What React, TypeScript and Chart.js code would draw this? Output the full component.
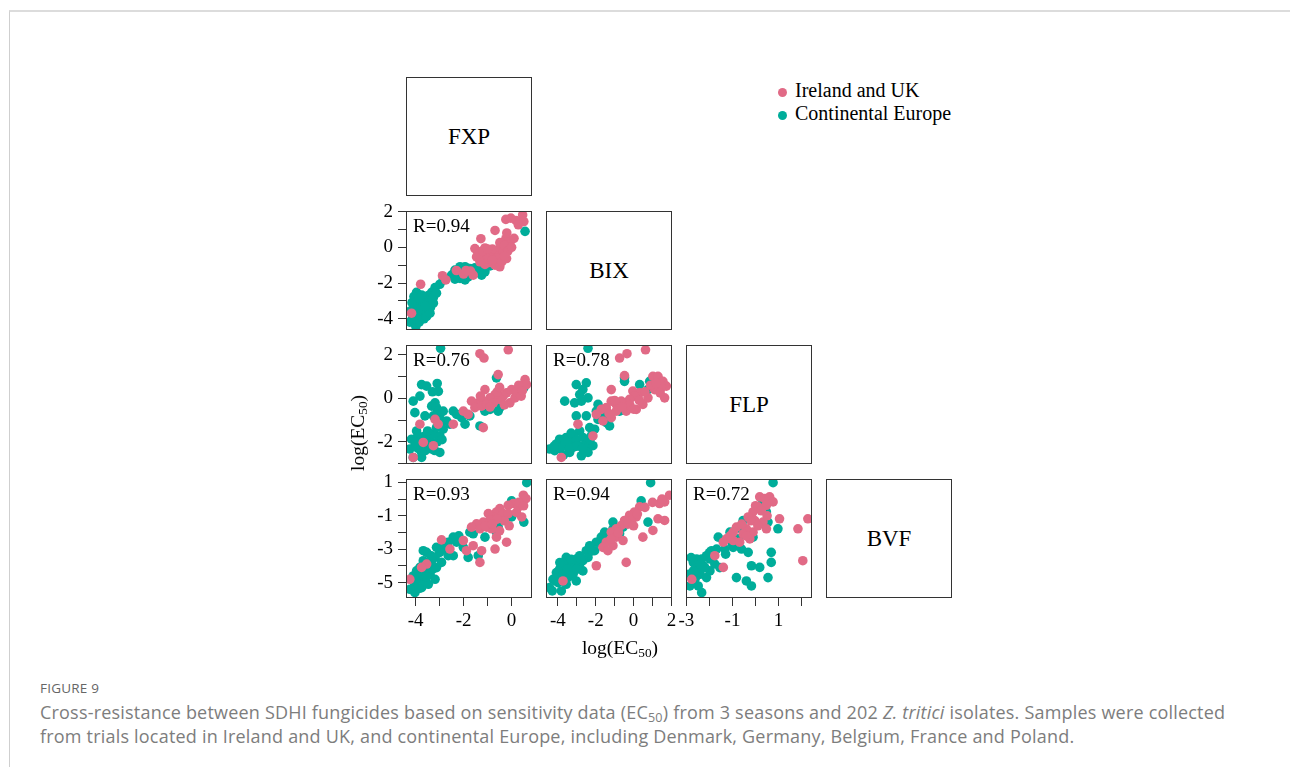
import React, { useEffect, useRef } from "react";
import { Chart, registerables } from "chart.js";

Chart.register(...registerables);

// ---------- data ----------
const UK_COLOR = "#E16A86";
const EU_COLOR = "#00AD9A";
const GROUPS = ["Ireland and UK", "Continental Europe"];
const VARIABLES = ["FXP", "BIX", "FLP", "BVF"];

const FXP_RANGE = [-4.4, 0.85];
const BIX_RANGE = [-4.63, 2.03];
const FLP_RANGE = [-3.02, 2.45];
const BVF_RANGE = [-5.92, 1.2];

const FXP_TICKS = [-4, -3, -2, -1, 0];
const BIX_TICKS = [-4, -3, -2, -1, 0, 1, 2];
const FLP_TICKS = [-3, -2, -1, 0, 1, 2];
const BVF_TICKS = [-5, -4, -3, -2, -1, 0, 1];

const FXP_LABELS_X = [-4, -2, 0];
const BIX_LABELS_X = [-4, -2, 0, 2];
const FLP_LABELS_X = [-3, -1, 1];
const BIX_LABELS_Y = [-4, -2, 0, 2];
const FLP_LABELS_Y = [-2, 0, 2];
const BVF_LABELS_Y = [-5, -3, -1, 1];

const R_VALUES = ["R=0.94", "R=0.76", "R=0.78", "R=0.93", "R=0.94", "R=0.72"];

// FXP (x) vs BIX (y)
const FXP_BIX_UK = [[-0.03,1.63],[0.18,1.5],[0.46,1.81],[0.51,1.44],[0.28,1.26],[-0.24,1.56],[-0.69,0.94],[-1.28,0.48],[-0.24,0.48],[-0.07,0.15],[-0.21,-0.63],[-1.53,-0.07],[-1.32,-0.26],[-1.11,-0.04],[-0.97,-0.35],[-1.46,-0.54],[-1.18,-0.63],[-0.83,-0.44],[-0.63,-0.17],[-0.46,-0.04],[-0.35,-0.26],[-0.69,-1.0],[-0.49,-1.09],[-0.9,-0.85],[-1.11,-0.96],[-1.6,-1.56],[-1.71,-1.33],[-2.88,-1.59],[-2.74,-1.83],[-3.79,-2.07],[-4.17,-3.69],[-0.49,0.26],[-1.01,-0.63],[-1.32,-0.81],[-1.4,-0.4],[-1.2,-0.2],[-0.8,-0.1],[-0.6,-0.6],[-0.4,-0.8],[-0.3,0.1],[-0.8,-0.7],[-1.0,-0.1],[-0.15,-0.2],[-0.3,-0.5],[0.0,0.0],[0.1,0.5],[-0.2,0.8],[-2.3,-1.3],[-2.0,-1.5],[-1.9,-1.3]];
const FXP_BIX_EU = [[0.56,0.89],[-0.14,0.33],[-0.56,-0.44],[-0.63,-0.67],[-0.9,-1.04],[-1.11,-1.37],[-1.32,-1.28],[-1.53,-1.15],[-1.74,-1.19],[-1.94,-1.09],[-2.15,-1.09],[-2.36,-1.28],[-2.5,-1.56],[-2.36,-1.78],[-2.15,-1.74],[-1.94,-1.83],[-1.81,-1.65],[-1.25,-1.56],[-2.85,-1.83],[-2.99,-2.07],[-3.19,-2.26],[-3.33,-2.52],[-3.47,-2.7],[-3.61,-2.89],[-3.82,-3.07],[-4.03,-3.26],[-4.1,-3.44],[-3.96,-3.63],[-3.79,-3.81],[-3.65,-4.0],[-4.13,-4.0],[-4.24,-4.19],[-3.99,-4.44],[-3.85,-4.19],[-3.54,-3.59],[-3.38,-3.37],[-3.26,-3.13],[-3.26,-2.81],[-3.47,-3.07],[-3.96,-2.52],[-4.07,-2.76],[-3.75,-2.67],[-3.68,-3.22],[-3.89,-3.5],[-3.54,-3.87],[-3.13,-2.57],[-4.24,-3.59],[-3.96,-4.04],[-3.75,-3.41],[-3.4,-3.69],[-4.15,-3.1],[-3.6,-3.3],[-3.85,-2.85],[-3.3,-2.95],[-4.05,-3.85]];

// FXP (x) vs FLP (y)
const FXP_FLP_UK = [[-1.32,2.05],[-1.15,1.85],[-0.14,2.23],[-0.56,1.09],[0.56,0.86],[0.62,0.63],[-1.11,0.4],[0.0,0.4],[-0.21,0.25],[-0.35,0.1],[-0.49,-0.05],[-0.69,0.17],[-0.9,0.02],[-1.18,-0.13],[-1.39,-0.21],[-1.67,-0.13],[-1.53,-0.43],[-1.25,-0.36],[-1.04,-0.28],[-0.76,-0.21],[-0.07,-0.21],[0.14,0.02],[-2.01,-0.59],[-1.81,-0.74],[-1.18,-1.35],[-2.43,-1.19],[-3.19,-0.97],[-3.82,-1.19],[-3.68,-2.03],[-3.26,-2.18],[-4.1,-2.72],[-3.06,-1.19],[-0.6,0.3],[-0.3,-0.3],[0.2,0.3],[0.4,0.1],[-0.9,-0.4],[-1.3,0.1],[0.3,0.6],[-0.5,0.5],[0.45,0.35]];
const FXP_FLP_EU = [[-2.96,2.3],[-3.75,0.63],[-3.54,0.56],[-3.1,0.68],[-3.05,0.32],[-3.3,0.3],[-4.1,-0.13],[-3.82,0.1],[-4.03,-0.66],[-3.61,-0.81],[-3.33,-0.36],[-3.19,-0.21],[-3.13,-0.43],[-3.06,-0.59],[-2.99,-0.74],[-2.85,-0.59],[-3.26,-0.81],[-2.92,-1.04],[-2.71,-1.04],[-2.43,-0.59],[-2.29,-0.74],[-2.08,-0.89],[-1.94,-1.19],[-1.74,-0.81],[-1.32,-1.27],[-1.11,-0.59],[-0.9,-0.51],[-0.56,-0.59],[-0.49,-0.43],[-0.63,0.94],[0.51,0.48],[0.56,0.71],[-3.96,-1.5],[-4.17,-1.88],[-4.03,-2.18],[-4.24,-2.33],[-3.82,-1.95],[-3.61,-1.73],[-3.4,-1.88],[-3.26,-1.65],[-3.13,-1.35],[-2.99,-1.73],[-2.85,-1.42],[-3.75,-2.49],[-3.33,-2.33],[-2.99,-2.49],[-3.75,-2.72],[-4.1,-2.72],[-3.54,-2.1],[-2.57,-1.19],[-3.9,-2.3],[-3.6,-2.4],[-3.4,-2.1],[-3.2,-2.4],[-3.9,-1.7],[-4.0,-2.0],[-3.5,-1.5],[-3.1,-2.0],[-2.9,-1.9]];

// BIX (x) vs FLP (y)
const BIX_FLP_UK = [[-0.74,1.85],[-0.35,2.05],[0.63,2.23],[-0.48,1.04],[-1.18,0.4],[-0.04,0.33],[1.02,1.01],[1.29,1.01],[1.55,0.78],[1.73,0.56],[1.46,0.48],[1.64,0.02],[1.11,0.4],[0.32,0.25],[0.05,0.1],[-0.21,-0.05],[-0.39,-0.21],[-0.65,-0.13],[-0.92,-0.28],[-1.18,-0.13],[-1.44,-0.43],[-1.71,-0.51],[-1.97,-0.74],[-1.62,-1.04],[-1.18,-0.89],[-0.92,-0.59],[-0.39,-0.59],[0.14,-0.51],[0.49,-0.28],[0.76,0.02],[-2.94,-1.19],[-2.15,-1.73],[-3.82,-2.72],[-0.2,-0.3],[0.3,-0.1],[0.6,0.3],[0.9,0.6],[1.2,0.7],[-0.6,-0.4],[-1.0,-0.1],[1.4,0.25],[0.0,-0.5],[-1.3,-0.7]];
const BIX_FLP_EU = [[-2.41,2.3],[-0.48,0.94],[-0.48,0.78],[0.32,0.63],[0.85,0.78],[0.76,0.4],[-3.03,0.63],[-2.5,0.71],[-2.68,0.4],[-2.85,0.17],[-3.64,-0.13],[-3.12,-0.21],[-2.76,-0.13],[-2.41,0.02],[-3.03,-0.81],[-2.5,-0.81],[-1.88,-0.28],[-1.97,-0.59],[-1.71,-0.74],[-1.88,-0.97],[-1.44,-0.81],[-1.44,-1.12],[-0.74,-0.59],[-0.56,-0.51],[-1.27,-1.27],[-2.32,-1.35],[-2.85,-1.5],[-3.2,-1.73],[-3.56,-1.8],[-3.91,-1.88],[-4.08,-2.1],[-4.44,-2.33],[-4.17,-2.41],[-3.73,-2.18],[-3.38,-2.03],[-3.03,-1.88],[-2.68,-1.8],[-3.2,-2.26],[-2.85,-2.18],[-2.5,-2.1],[-2.15,-2.18],[-2.41,-2.49],[-2.76,-2.64],[-3.38,-2.49],[-2.06,-1.42],[-2.24,-1.73],[-3.9,-2.3],[-3.6,-2.0],[-3.4,-2.3],[-3.0,-2.2],[-2.7,-2.3],[-2.3,-1.9],[-3.7,-2.6],[-4.2,-2.2],[-3.3,-1.6]];

// FXP (x) vs BVF (y)
const FXP_BVF_UK = [[0.49,0.23],[0.6,0.03],[0.07,-0.27],[0.28,-0.47],[-0.14,-0.37],[-0.49,-0.57],[-0.63,-0.77],[-0.35,-0.87],[-0.14,-0.87],[-0.76,-1.07],[-0.97,-0.87],[-0.9,-1.27],[-1.18,-1.38],[-1.46,-1.48],[-1.67,-1.68],[-1.32,-1.78],[-1.04,-1.68],[-0.83,-1.78],[-0.63,-2.28],[-0.21,-2.58],[0.42,-1.07],[-2.01,-2.48],[-1.88,-3.09],[-1.6,-2.79],[-1.25,-3.09],[-1.32,-3.79],[-0.69,-2.99],[-2.92,-2.44],[-2.57,-2.99],[-3.54,-3.89],[-3.75,-4.09],[-4.24,-4.8],[-0.3,-1.3],[-0.6,-1.2],[0.2,-0.8],[-1.1,-1.6],[-0.5,-1.9],[0.3,-0.2],[-0.1,-1.6],[-0.8,-1.5],[0.5,-0.4]];
const FXP_BVF_EU = [[0.63,0.98],[0.0,-0.11],[0.51,-1.38],[0.0,-1.07],[-0.56,-1.68],[-0.63,-1.98],[-1.11,-2.28],[-1.74,-1.98],[-1.6,-2.08],[-2.43,-2.28],[-2.29,-2.58],[-2.64,-2.58],[-2.01,-2.89],[-1.81,-3.49],[-1.39,-3.39],[-2.43,-3.39],[-2.78,-2.99],[-2.99,-3.19],[-3.13,-2.89],[-3.19,-3.49],[-3.33,-3.69],[-3.54,-3.19],[-3.68,-3.09],[-3.47,-3.99],[-3.68,-3.69],[-3.82,-4.09],[-3.96,-4.3],[-4.1,-4.6],[-3.89,-4.7],[-3.61,-4.4],[-3.4,-4.5],[-3.19,-4.8],[-3.68,-4.9],[-4.03,-5.1],[-4.24,-5.4],[-4.03,-5.6],[-3.75,-5.3],[-3.47,-5.1],[-3.13,-4.1],[-2.92,-3.79],[-2.64,-3.39],[-3.8,-4.6],[-3.6,-3.8],[-3.3,-4.2],[-4.0,-4.9],[-3.55,-4.65],[-3.85,-5.35],[-3.35,-3.4],[-2.8,-2.7],[-2.2,-2.2]];

// BIX (x) vs BVF (y)
const BIX_BVF_UK = [[1.9,0.23],[1.64,-0.17],[1.37,-0.27],[1.29,-1.18],[1.64,-1.28],[1.02,-1.88],[0.49,-2.28],[0.32,-0.47],[0.05,-0.77],[0.14,-1.07],[-0.21,-0.97],[-0.12,-1.28],[-0.48,-1.28],[-0.65,-1.58],[-0.92,-1.78],[-1.18,-1.98],[-0.92,-2.28],[-1.44,-2.58],[-1.09,-2.79],[-1.62,-2.89],[-1.36,-3.09],[-0.39,-3.79],[-1.97,-3.99],[-0.56,-2.48],[-3.73,-4.9],[0.2,-0.9],[-0.3,-1.5],[-0.8,-2.0],[0.6,-0.5],[1.0,-0.2],[1.5,0.0],[-1.2,-2.4],[0.0,-1.6]];
const BIX_BVF_EU = [[0.9,0.98],[0.4,-0.11],[0.76,-1.38],[-1.09,-1.38],[-1.53,-1.98],[-1.09,-1.78],[-0.56,-1.68],[-1.71,-2.28],[-1.97,-2.58],[-1.44,-2.38],[-2.32,-2.79],[-2.06,-3.09],[-2.5,-3.09],[-2.85,-3.39],[-2.41,-3.49],[-2.68,-3.69],[-3.03,-3.59],[-3.29,-3.69],[-3.56,-3.49],[-3.64,-3.89],[-3.38,-4.09],[-3.12,-3.99],[-2.85,-3.89],[-3.91,-4.2],[-4.08,-4.4],[-3.73,-4.5],[-3.47,-4.7],[-3.2,-4.5],[-4.26,-4.8],[-3.99,-5.0],[-4.44,-5.3],[-3.82,-5.5],[-3.56,-5.1],[-3.03,-4.9],[-2.68,-4.3],[-1.0,-2.18],[-0.74,-2.08],[-4.1,-4.9],[-3.8,-4.7],[-3.5,-4.2],[-3.3,-3.6],[-3.0,-4.2],[-2.8,-3.6],[-4.3,-5.5],[-3.9,-3.8],[-2.2,-3.1],[-1.8,-2.6]];

// FLP (x) vs BVF (y)
const FLP_BVF_UK = [[0.18,0.13],[0.4,0.03],[0.61,0.13],[0.76,-0.17],[0.47,-0.37],[0.11,-0.47],[-0.11,-0.77],[-0.32,-1.07],[-0.04,-1.28],[0.32,-1.38],[1.04,-1.18],[0.47,-1.78],[-0.11,-1.98],[-0.4,-1.78],[-0.83,-1.68],[-0.97,-1.98],[-0.54,-2.08],[-0.25,-2.38],[-1.26,-2.38],[-0.97,-2.48],[-0.69,-2.58],[-1.4,-2.58],[1.84,-1.78],[2.27,-1.18],[2.05,-3.69],[-2.77,-4.8],[-1.4,-4.09],[-1.77,-3.39],[0.0,-0.4],[0.25,-0.7],[-0.2,-1.3],[0.1,-1.6],[-0.6,-1.5],[0.5,-1.0],[-1.1,-2.2],[-0.4,-2.2]];
const FLP_BVF_EU = [[0.76,0.98],[0.32,-0.17],[0.47,-0.77],[0.54,-1.38],[0.97,-1.78],[-0.54,-1.28],[-0.61,-1.78],[-1.11,-1.98],[-0.76,-2.38],[-0.11,-2.28],[-1.62,-2.28],[-1.69,-2.99],[-1.33,-2.99],[-0.97,-2.89],[-0.61,-2.99],[-0.32,-3.19],[0.68,-3.19],[0.68,-3.79],[0.18,-4.09],[-0.18,-3.99],[0.54,-4.7],[-0.83,-4.7],[-0.4,-4.9],[-0.18,-5.2],[-1.91,-3.09],[-2.13,-3.39],[-2.34,-3.59],[-2.56,-3.59],[-1.98,-3.59],[-1.77,-3.89],[-2.27,-3.99],[-2.49,-4.2],[-2.7,-4.3],[-2.41,-4.5],[-2.13,-4.7],[-2.63,-4.8],[-2.85,-5.2],[-2.49,-5.2],[-2.34,-5.6],[-1.98,-4.3],[-1.55,-4.1],[-2.7,-3.8],[-2.4,-3.9],[-2.2,-4.1],[-2.6,-4.6],[-2.9,-4.5],[-2.0,-3.2],[-1.8,-3.3],[-2.8,-3.5],[-1.3,-3.3],[-1.0,-2.7]];

// ---------- layout ----------
const COL_X = [406, 546, 686, 826];
const ROW_Y = [77, 211, 345, 479];
const PW = 126;
const PH = 119;
const PL = 50, PT = 12, PR = 12, PB = 40;
const SERIF = '"Liberation Serif", "Times New Roman", serif';

type AxisSpec = { range: number[]; ticks: number[]; labels: number[] };

const panelDeco = {
  id: "panelDeco",
  afterDatasetsDraw(chart: any, _args: any, opts: any) {
    const { ctx, chartArea: a } = chart;
    ctx.save();
    ctx.strokeStyle = "#333";
    ctx.lineWidth = 1;
    const l = Math.round(a.left), t = Math.round(a.top);
    const w = Math.round(a.right - a.left), h = Math.round(a.bottom - a.top);
    ctx.strokeRect(l + 0.5, t + 0.5, w - 1, h - 1);
    if (opts && opts.label) {
      ctx.font = `19px ${SERIF}`;
      ctx.fillStyle = "#000";
      ctx.textBaseline = "middle";
      ctx.textAlign = "left";
      ctx.fillText(opts.label, l + 7, t + 16);
    }
    ctx.restore();
  },
};

function axisOptions(spec: AxisSpec, show: boolean, horizontal: boolean) {
  return {
    type: "linear",
    min: spec.range[0],
    max: spec.range[1],
    display: show,
    position: horizontal ? "bottom" : "left",
    afterBuildTicks: (s: any) => {
      s.ticks = spec.ticks.map((v) => ({ value: v }));
    },
    afterFit: (s: any) => {
      if (!show) {
        if (horizontal) s.height = 0;
        else s.width = 0;
        return;
      }
      if (horizontal) s.height = PB;
      else s.width = PL;
    },
    grid: {
      display: true,
      drawOnChartArea: false,
      drawTicks: true,
      tickLength: 8,
      color: "#333",
      lineWidth: 1,
    },
    border: { display: false },
    ticks: {
      autoSkip: false,
      maxRotation: 0,
      minRotation: 0,
      padding: horizontal ? 4 : 5,
      color: "#000",
      font: horizontal ? { family: SERIF, size: 19 } : { family: SERIF, size: 19, lineHeight: 0.6 },
      callback: (v: any) => (spec.labels.includes(Number(v)) ? String(v) : ""),
    },
  };
}

function Panel(props: {
  left: number;
  top: number;
  x: AxisSpec;
  y: AxisSpec;
  showX: boolean;
  showY: boolean;
  uk: number[][];
  eu: number[][];
  label: string;
}) {
  const ref = useRef<HTMLCanvasElement>(null);
  useEffect(() => {
    const chart = new Chart(ref.current as HTMLCanvasElement, {
      type: "scatter",
      data: {
        datasets: [
          {
            label: GROUPS[0],
            data: props.uk.map((p) => ({ x: p[0], y: p[1] })),
            backgroundColor: UK_COLOR,
            borderWidth: 0,
            pointRadius: 4.8,
          },
          {
            label: GROUPS[1],
            data: props.eu.map((p) => ({ x: p[0], y: p[1] })),
            backgroundColor: EU_COLOR,
            borderWidth: 0,
            pointRadius: 4.8,
          },
        ],
      },
      options: {
        animation: false,
        responsive: false,
        maintainAspectRatio: false,
        events: [],
        layout: {
          padding: {
            left: props.showY ? 0 : PL,
            top: PT,
            right: PR,
            bottom: props.showX ? 0 : PB,
          },
        },
        plugins: {
          legend: { display: false },
          tooltip: { enabled: false },
          panelDeco: { label: props.label },
        } as any,
        scales: {
          x: axisOptions(props.x, props.showX, true) as any,
          y: axisOptions(props.y, props.showY, false) as any,
        },
      },
      plugins: [panelDeco],
    });
    return () => chart.destroy();
  }, []);
  const w = PW + PL + PR;
  const h = PH + PT + PB;
  return (
    <canvas
      ref={ref}
      width={w}
      height={h}
      style={{ position: "absolute", left: props.left - PL, top: props.top - PT, width: w, height: h }}
    />
  );
}

const AXES: Record<string, { x: AxisSpec; y: AxisSpec }> = {
  FXP: { x: { range: FXP_RANGE, ticks: FXP_TICKS, labels: FXP_LABELS_X }, y: { range: FXP_RANGE, ticks: FXP_TICKS, labels: [] } },
  BIX: { x: { range: BIX_RANGE, ticks: BIX_TICKS, labels: BIX_LABELS_X }, y: { range: BIX_RANGE, ticks: BIX_TICKS, labels: BIX_LABELS_Y } },
  FLP: { x: { range: FLP_RANGE, ticks: FLP_TICKS, labels: FLP_LABELS_X }, y: { range: FLP_RANGE, ticks: FLP_TICKS, labels: FLP_LABELS_Y } },
  BVF: { x: { range: BVF_RANGE, ticks: BVF_TICKS, labels: [] }, y: { range: BVF_RANGE, ticks: BVF_TICKS, labels: BVF_LABELS_Y } },
};

const PANELS = [
  { row: 1, col: 0, uk: FXP_BIX_UK, eu: FXP_BIX_EU, r: R_VALUES[0] },
  { row: 2, col: 0, uk: FXP_FLP_UK, eu: FXP_FLP_EU, r: R_VALUES[1] },
  { row: 2, col: 1, uk: BIX_FLP_UK, eu: BIX_FLP_EU, r: R_VALUES[2] },
  { row: 3, col: 0, uk: FXP_BVF_UK, eu: FXP_BVF_EU, r: R_VALUES[3] },
  { row: 3, col: 1, uk: BIX_BVF_UK, eu: BIX_BVF_EU, r: R_VALUES[4] },
  { row: 3, col: 2, uk: FLP_BVF_UK, eu: FLP_BVF_EU, r: R_VALUES[5] },
];

const SUB_STYLE = { fontSize: "0.68em", verticalAlign: "-0.25em", lineHeight: 0 };

const Log = () => (
  <span>
    log(EC<sub style={SUB_STYLE}>50</sub>)
  </span>
);

export default function App() {
  return (
    <div
      style={{
        position: "absolute",
        left: 0,
        top: 0,
        width: 1290,
        height: 767,
        overflow: "hidden",
        background: "#fff",
      }}
    >
      <div
        style={{
          position: "absolute",
          left: 9,
          top: 10,
          width: 1400,
          height: 900,
          borderTop: "2px solid #dcdcdc",
          borderLeft: "1px solid #cfcfcf",
        }}
      />
      {VARIABLES.map((v, i) => (
        <div
          key={v}
          style={{
            position: "absolute",
            left: COL_X[i],
            top: ROW_Y[i],
            width: PW,
            height: PH,
            boxSizing: "border-box",
            border: "1px solid #333",
            display: "flex",
            alignItems: "center",
            justifyContent: "center",
            fontFamily: SERIF,
            fontSize: 23,
            color: "#000",
          }}
        >
          {v}
        </div>
      ))}
      {PANELS.map((p, k) => (
        <Panel
          key={k}
          left={COL_X[p.col]}
          top={ROW_Y[p.row]}
          x={AXES[VARIABLES[p.col]].x}
          y={AXES[VARIABLES[p.row]].y}
          showX={p.row === 3}
          showY={p.col === 0}
          uk={p.uk}
          eu={p.eu}
          label={p.r}
        />
      ))}
      {/* legend */}
      {GROUPS.map((g, i) => (
        <div
          key={g}
          style={{
            position: "absolute",
            left: 778,
            top: 79 + i * 23,
            height: 22,
            display: "flex",
            alignItems: "center",
            fontFamily: SERIF,
            fontSize: 20,
            color: "#000",
            whiteSpace: "nowrap",
          }}
        >
          <span
            style={{
              display: "inline-block",
              width: 9,
              height: 9,
              borderRadius: "50%",
              background: i === 0 ? UK_COLOR : EU_COLOR,
              marginRight: 8,
              marginTop: 5,
            }}
          />
          {g}
        </div>
      ))}
      {/* axis titles */}
      <div
        style={{
          position: "absolute",
          left: 540,
          width: 160,
          top: 637,
          textAlign: "center",
          fontFamily: SERIF,
          fontSize: 19.5,
          lineHeight: "22px",
          color: "#000",
        }}
      >
        <Log />
      </div>
      <div
        style={{
          position: "absolute",
          left: 358,
          top: 433,
          transform: "translate(-50%, -50%) rotate(-90deg)",
          fontFamily: SERIF,
          fontSize: 19.5,
          lineHeight: "22px",
          color: "#000",
          whiteSpace: "nowrap",
        }}
      >
        <Log />
      </div>
      {/* caption */}
      <div
        style={{
          position: "absolute",
          left: 40,
          top: 679,
          fontFamily: '"Open Sans", sans-serif',
          fontSize: 13.5,
          color: "#666",
          letterSpacing: 0.2,
        }}
      >
        FIGURE 9
      </div>
      <div
        style={{
          position: "absolute",
          left: 40,
          top: 700,
          width: 1240,
          fontFamily: '"Open Sans", sans-serif',
          fontSize: 18,
          letterSpacing: 0.2,
          lineHeight: "24px",
          color: "#7d7d7d",
          whiteSpace: "nowrap",
        }}
      >
        Cross-resistance between SDHI fungicides based on sensitivity data (EC
        <sub style={{ fontSize: "0.7em", verticalAlign: "-0.2em", lineHeight: 0 }}>50</sub>) from 3 seasons and 202{" "}
        <i>Z. tritici</i> isolates. Samples were collected
        <br />
        from trials located in Ireland and UK, and continental Europe, including Denmark, Germany, Belgium, France and Poland.
      </div>
    </div>
  );
}
